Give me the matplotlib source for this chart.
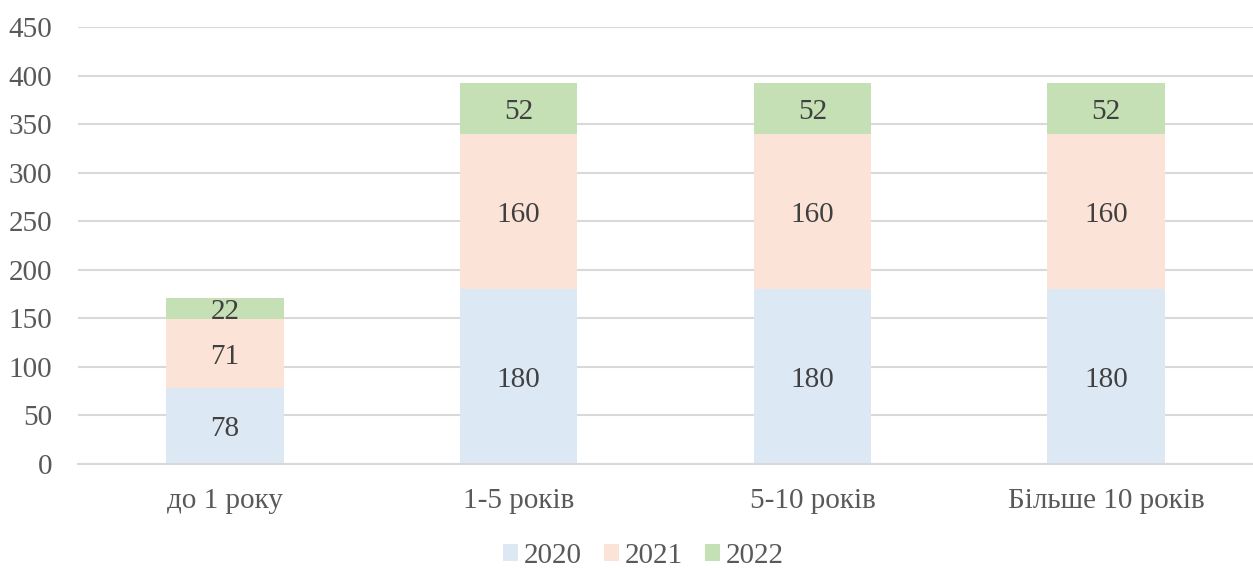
import matplotlib.pyplot as plt
import numpy as np

# ── Data ──────────────────────────────────────────────────────────────────────
categories = ["до 1 року", "1-5 років", "5-10 років", "Більше 10 років"]
years = ["2020", "2021", "2022"]
v2020 = [78, 180, 180, 180]
v2021 = [71, 160, 160, 160]
v2022 = [22, 52, 52, 52]

colors = ["#DDE8F5", "#FBE4D7", "#C5E0B4"]

plt.rcParams["font.family"] = ["Liberation Serif", "DejaVu Serif"]

W, H = 1253, 568
fig = plt.figure(figsize=(W / 100, H / 100), dpi=100)
ax = fig.add_axes([78 / W, 1 - 464 / H, 1175 / W, 437 / H])

x = np.arange(len(categories))
bottom = np.zeros(len(categories))
for label, vals, col in zip(years, [v2020, v2021, v2022], colors):
    vals = np.array(vals, dtype=float)
    ax.bar(x, vals, width=0.4, bottom=bottom, color=col, label=label, zorder=2)
    for xi, b, v in zip(x, bottom, vals):
        ax.text(xi, b + v / 2, f"{int(v)}", ha="center", va="center_baseline",
                fontsize=21, color="#404040", zorder=3)
    bottom += vals

ax.set_xlim(-0.5, len(categories) - 0.5)
ax.set_ylim(0, 450)
ax.set_yticks(range(0, 451, 50))
ax.set_xticks(x)
ax.set_xticklabels(categories)
ax.tick_params(axis="y", length=0, labelsize=21, labelcolor="#595959", pad=18.5)
ax.tick_params(axis="x", length=0, labelsize=21, labelcolor="#595959", pad=17)

ax.grid(axis="y", color="#D9D9D9", linewidth=1.5, zorder=0)
for s in ["top", "right", "left"]:
    ax.spines[s].set_visible(False)
ax.spines["bottom"].set_color("#D9D9D9")
ax.spines["bottom"].set_linewidth(1.5)

leg = fig.legend(loc="center", bbox_to_anchor=(0.5 + 17 / W, 1 - 556 / H), ncol=3,
                 frameon=False, fontsize=21, handlelength=0.52, handleheight=0.52,
                 handletextpad=0.2, columnspacing=0.75)
for t in leg.get_texts():
    t.set_color("#595959")

fig.savefig("out.png", dpi=100)
